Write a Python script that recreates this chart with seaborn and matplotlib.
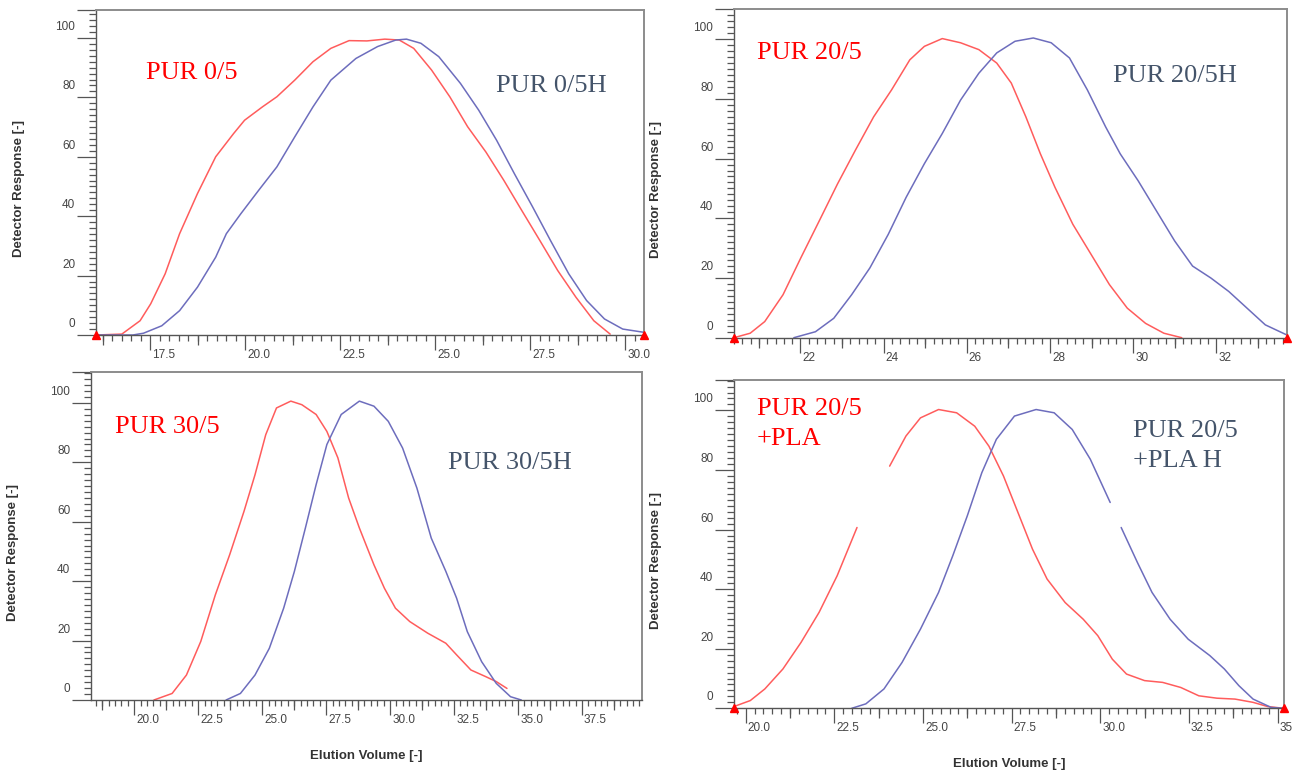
import math
import matplotlib
matplotlib.use('Agg')
import matplotlib.pyplot as plt
import matplotlib.transforms as mtransforms
from matplotlib.ticker import MultipleLocator
import seaborn as sns

# ---- data ----
# PUR 0/5 vs PUR 0/5H
pur0_red_x = [16.07, 16.75, 17.23, 17.51, 17.89, 18.27, 18.74, 19.22, 19.69, 19.98, 20.45, 20.83,
              21.30, 21.78, 22.25, 22.73, 23.20, 23.67, 24.05, 24.43, 24.90, 25.38, 25.85, 26.33,
              26.80, 27.27, 27.75, 28.22, 28.70, 29.17, 29.60]
pur0_red_y = [0, 0.3, 4.8, 10.5, 20.6, 34.1, 47.6, 60.0, 67.8, 72.3, 76.8, 80.2,
              85.8, 92.0, 96.5, 99.1, 99.0, 99.6, 99.3, 96.5, 89.2, 80.2, 70.1, 61.6,
              52.1, 42.0, 31.8, 21.7, 12.7, 4.8, 0.3]
pur0_blue_x = [16.07, 17.04, 17.32, 17.80, 18.27, 18.74, 19.22, 19.50, 19.88, 20.35, 20.83, 21.30,
               21.78, 22.25, 22.91, 23.48, 23.96, 24.24, 24.62, 25.09, 25.66, 26.14, 26.61, 27.08,
               27.56, 28.03, 28.51, 28.98, 29.45, 29.93, 30.49]
pur0_blue_y = [0, 0, 0.6, 3.1, 8.2, 16.1, 26.2, 34.1, 40.8, 48.7, 56.6, 66.7,
               76.8, 85.8, 93.1, 97.1, 99.3, 99.6, 98.2, 93.7, 84.7, 75.7, 65.6, 54.3,
               43.1, 31.8, 20.6, 11.6, 5.4, 2.0, 0.9]
pur0_range = [16.07, 30.49]

# PUR 20/5 vs PUR 20/5H
pur20_red_x = [20.40, 20.79, 21.14, 21.58, 22.01, 22.45, 22.89, 23.32, 23.76, 24.19, 24.63, 24.98,
               25.41, 25.85, 26.29, 26.72, 27.07, 27.42, 27.77, 28.12, 28.55, 28.99, 29.43, 29.86,
               30.30, 30.74, 31.17]
pur20_red_y = [0, 1.5, 5.4, 14.4, 26.8, 39.1, 51.5, 62.8, 74.0, 83.0, 93.1, 97.6,
               100.2, 98.8, 96.5, 92.0, 85.3, 74.0, 61.6, 50.4, 38.0, 27.9, 17.8, 9.9,
               4.8, 1.5, 0]
pur20_blue_x = [21.84, 22.36, 22.80, 23.23, 23.67, 24.11, 24.54, 24.98, 25.41, 25.85, 26.29, 26.72,
                27.16, 27.60, 28.03, 28.47, 28.90, 29.34, 29.69, 30.12, 30.56, 31.00, 31.43, 31.87,
                32.30, 32.74, 33.18, 33.70]
pur20_blue_y = [0, 2.0, 6.5, 14.4, 23.4, 34.6, 47.0, 58.3, 68.4, 79.6, 88.6, 95.4,
                99.3, 100.4, 98.8, 93.7, 83.0, 70.6, 61.6, 52.6, 42.5, 32.4, 24.0, 20.0,
                15.5, 9.9, 4.3, 0.9]
pur20_range = [20.40, 33.70]

# PUR 30/5 vs PUR 30/5H
pur30_red_x = [20.77, 21.48, 22.04, 22.60, 23.17, 23.73, 24.29, 24.72, 25.14, 25.56, 26.12, 26.55,
               27.11, 27.53, 27.96, 28.38, 28.80, 29.37, 29.78, 30.21, 30.77, 31.47, 32.18, 32.60,
               33.16, 33.73, 34.15, 34.57]
pur30_red_y = [0, 2.2, 8.4, 19.7, 35.4, 48.9, 63.5, 75.8, 89.3, 98.3, 100.6, 99.4,
               96.1, 90.4, 81.5, 68.0, 57.9, 45.5, 37.6, 30.9, 26.4, 22.5, 19.1, 15.2,
               10.1, 7.9, 6.2, 3.9]
pur30_blue_x = [23.59, 24.15, 24.72, 25.28, 25.84, 26.26, 26.69, 27.11, 27.53, 28.09, 28.80, 29.37,
                29.93, 30.49, 31.05, 31.61, 32.18, 32.60, 33.02, 33.58, 34.15, 34.71, 35.13]
pur30_blue_y = [0, 2.2, 8.4, 17.4, 30.9, 43.3, 57.9, 72.5, 86.0, 96.1, 100.6, 98.9,
                93.8, 84.8, 71.3, 54.5, 43.3, 34.3, 23.0, 12.9, 5.6, 1.1, 0]
pur30_range = [18.31, 39.85]

# PUR 20/5 +PLA vs PUR 20/5 +PLA H (NaN = stretch hidden in the original figure)
nan = math.nan
pla_red_x = [19.67, 20.13, 20.54, 21.05, 21.56, 22.07, 22.58, 23.14, 23.60, 24.06, 24.52, 24.93,
             25.44, 25.95, 26.46, 26.86, 27.27, 27.68, 28.09, 28.50, 29.01, 29.52, 29.93, 30.34,
             30.74, 31.25, 31.76, 32.27, 32.78, 33.29, 33.80, 34.31, 34.72, 35.18]
pla_red_y = [0.6, 2.6, 6.5, 13.2, 22.1, 32.2, 44.5, 60.7, nan, 81.3, 91.4, 97.5,
             100.3, 99.2, 94.7, 88.0, 78.0, 65.7, 53.4, 43.4, 35.5, 29.9, 24.4, 16.5,
             11.5, 9.3, 8.7, 7.0, 4.2, 3.4, 3.1, 2.0, 0.6, 0]
pla_blue_x = [22.99, 23.39, 23.90, 24.41, 24.93, 25.44, 25.84, 26.25, 26.66, 27.07, 27.58, 28.19,
              28.70, 29.21, 29.72, 30.28, 30.44, 30.59, 31.05, 31.46, 31.97, 32.48, 33.09, 33.50,
              33.91, 34.31, 34.82, 35.18]
pla_blue_y = [0, 1.5, 6.5, 15.4, 26.6, 38.9, 51.2, 64.6, 79.1, 90.3, 98.1, 100.3,
              99.2, 93.6, 83.6, 69.1, nan, 60.7, 48.9, 38.9, 29.9, 23.2, 17.7, 13.2,
              7.6, 3.1, 0.3, 0]
pla_range = [19.67, 35.18]

y_ticks = [0, 20, 40, 60, 80, 100]
y_labels = ['0', '20', '40', '60', '80', '100']
xt_0 = [17.5, 20.0, 22.5, 25.0, 27.5, 30.0]
xl_0 = ['17.5', '20.0', '22.5', '25.0', '27.5', '30.0']
xt_20 = [22, 24, 26, 28, 30, 32]
xl_20 = ['22', '24', '26', '28', '30', '32']
xt_30 = [20.0, 22.5, 25.0, 27.5, 30.0, 32.5, 35.0, 37.5]
xl_30 = ['20.0', '22.5', '25.0', '27.5', '30.0', '32.5', '35.0', '37.5']
xt_pla = [20.0, 22.5, 25.0, 27.5, 30.0, 32.5, 35.0]
xl_pla = ['20.0', '22.5', '25.0', '27.5', '30.0', '32.5', '35']

RED_LINE = '#ff5c5c'
BLUE_LINE = '#6d6dbd'
RED_TEXT = '#ff0000'
BLUE_TEXT = '#44546a'
SERIF = ['Liberation Serif', 'DejaVu Serif']

sns.set_style('white')
plt.rcParams['font.family'] = ['Liberation Sans', 'DejaVu Sans']

fig = plt.figure(figsize=(13.06, 7.71), dpi=100)

panels = [
    dict(rect=[0.0735, 0.5655, 0.4196, 0.4215], ytop=109.4,
         red=(pur0_red_x, pur0_red_y), blue=(pur0_blue_x, pur0_blue_y), rng=pur0_range,
         xt=xt_0, xl=xl_0, step=2.5, minor=0.25, marks=True, xlabel=False,
         red_txt=('PUR 0/5', 0.091, 0.806), blue_txt=('PUR 0/5H', 0.730, 0.766)),
    dict(rect=[0.5620, 0.5620, 0.4234, 0.4259], ytop=110.0,
         red=(pur20_red_x, pur20_red_y), blue=(pur20_blue_x, pur20_blue_y), rng=pur20_range,
         xt=xt_20, xl=xl_20, step=2, minor=0.2, marks=True, xlabel=False,
         red_txt=('PUR 20/5', 0.042, 0.867), blue_txt=('PUR 20/5H', 0.685, 0.797)),
    dict(rect=[0.0697, 0.0921, 0.4219, 0.4254], ytop=110.4,
         red=(pur30_red_x, pur30_red_y), blue=(pur30_blue_x, pur30_blue_y), rng=pur30_range,
         xt=xt_30, xl=xl_30, step=2.5, minor=0.25, marks=False, xlabel=True,
         red_txt=('PUR 30/5', 0.043, 0.833), blue_txt=('PUR 30/5H', 0.648, 0.723)),
    dict(rect=[0.5620, 0.0813, 0.4211, 0.4258], ytop=110.2,
         red=(pla_red_x, pla_red_y), blue=(pla_blue_x, pla_blue_y), rng=pla_range,
         xt=xt_pla, xl=xl_pla, step=2.5, minor=0.25, marks=True, xlabel=True,
         red_txt=('PUR 20/5\n+PLA', 0.042, 0.867), blue_txt=('PUR 20/5\n+PLA H', 0.725, 0.800)),
]


def draw_curve(ax, xs, ys, color):
    # split at NaN so hidden stretches stay blank
    seg_x, seg_y = [], []
    for x, y in list(zip(xs, ys)) + [(nan, nan)]:
        if math.isnan(y):
            if seg_x:
                sns.lineplot(x=seg_x, y=seg_y, ax=ax, color=color, linewidth=1.1,
                             sort=False, estimator=None)
            seg_x, seg_y = [], []
        else:
            seg_x.append(x)
            seg_y.append(y)


up = mtransforms.ScaledTranslation(0, 9 / 72, fig.dpi_scale_trans)
right = mtransforms.ScaledTranslation(1.5 / 72, 0, fig.dpi_scale_trans)

for p in panels:
    ax = fig.add_axes(p['rect'])
    draw_curve(ax, p['red'][0], p['red'][1], RED_LINE)
    draw_curve(ax, p['blue'][0], p['blue'][1], BLUE_LINE)
    if p['marks']:
        ax.plot(p['rng'], [0, 0], '^', color='red', ms=6, clip_on=False, zorder=6)
    ax.set_xlim(p['rng'])
    ax.set_ylim(0, p['ytop'])

    # axis frame
    for s in ['left', 'bottom']:
        ax.spines[s].set_color('#555555')
        ax.spines[s].set_linewidth(1.0)
    for s in ['top', 'right']:
        ax.spines[s].set_color('#8c8c8c')
        ax.spines[s].set_linewidth(1.4)

    # ticks
    ax.set_yticks(y_ticks + [p['ytop']], labels=y_labels + [''])
    ax.yaxis.set_minor_locator(MultipleLocator(2))
    ax.set_xticks(p['xt'], labels=p['xl'])
    ax.xaxis.set_minor_locator(MultipleLocator(p['minor']))
    ax.tick_params(axis='both', which='both', direction='out', color='#555555', width=0.9,
                   bottom=True, left=True, labelsize=8.5, labelcolor='#444444')
    ax.tick_params(axis='y', which='major', length=14, pad=1)
    ax.tick_params(axis='y', which='minor', length=5)
    ax.tick_params(axis='x', which='major', length=11, pad=-1)
    ax.tick_params(axis='x', which='minor', length=4)
    for lab in ax.get_yticklabels():
        lab.set_transform(lab.get_transform() + up)
    for lab in ax.get_xticklabels():
        lab.set_horizontalalignment('left')
        lab.set_transform(lab.get_transform() + right)

    # medium ticks half way between labelled ticks
    sec = ax.secondary_xaxis('bottom')
    sec.xaxis.set_major_locator(MultipleLocator(p['step'], offset=p['step'] / 2))
    sec.tick_params(axis='x', direction='out', length=7, width=0.9, color='#555555',
                    labelbottom=False)
    sec.spines['bottom'].set_visible(False)

    ax.set_ylabel('Detector Response [-]', fontsize=9.5, fontweight='bold', color='#333333')
    ax.yaxis.set_label_coords(-0.13, 0.45)
    if p['xlabel']:
        ax.set_xlabel('Elution Volume [-]', fontsize=9.5, fontweight='bold', color='#333333')
        ax.xaxis.set_label_coords(0.5, -0.152)
    else:
        ax.set_xlabel('')

    t, tx, ty = p['red_txt']
    ax.text(tx, ty, t, transform=ax.transAxes, color=RED_TEXT, fontsize=19, family=SERIF,
            ha='left', va='center', linespacing=1.45)
    t, tx, ty = p['blue_txt']
    ax.text(tx, ty, t, transform=ax.transAxes, color=BLUE_TEXT, fontsize=19, family=SERIF,
            ha='left', va='center', linespacing=1.45)

fig.savefig('out.png', dpi=100)
